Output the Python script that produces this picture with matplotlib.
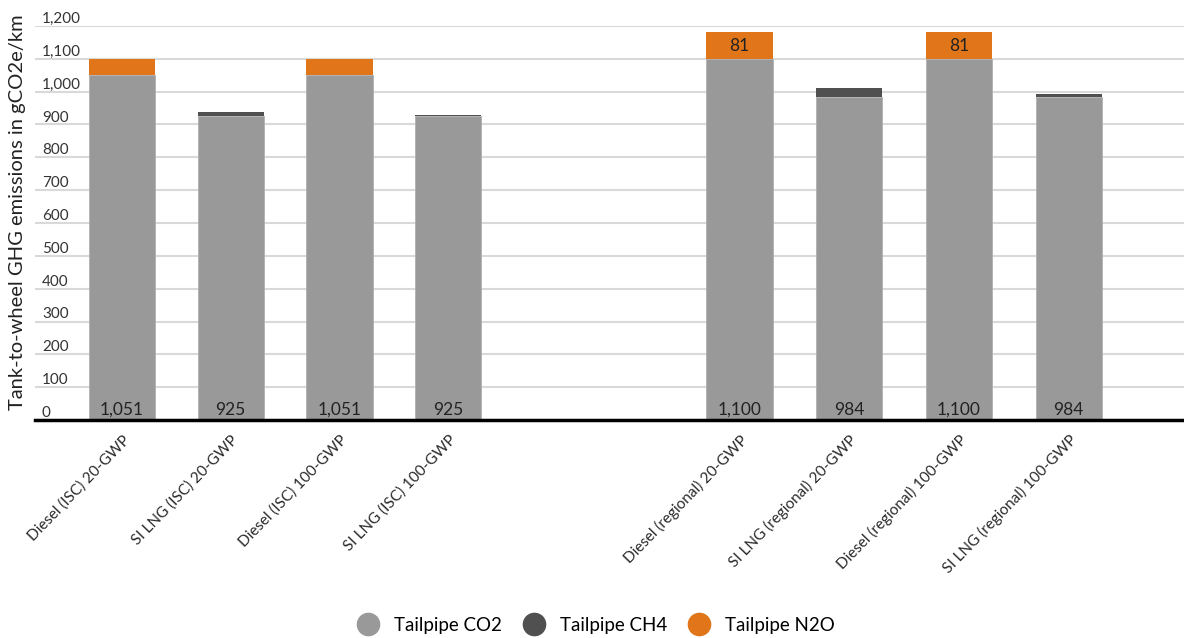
import matplotlib
matplotlib.use("Agg")
import matplotlib.pyplot as plt
from matplotlib.lines import Line2D
import numpy as np

plt.rcParams['font.family'] = ['Lato', 'DejaVu Sans']

categories = ["Diesel (ISC) 20-GWP", "SI LNG (ISC) 20-GWP", "Diesel (ISC) 100-GWP", "SI LNG (ISC) 100-GWP",
              "Diesel (regional) 20-GWP", "SI LNG (regional) 20-GWP", "Diesel (regional) 100-GWP",
              "SI LNG (regional) 100-GWP"]
co2 = [1051, 925, 1051, 925, 1100, 984, 1100, 984]
ch4 = [0, 14, 0, 5, 0, 26, 0, 8]
n2o = [47, 0, 47, 0, 81, 2, 81, 2]
series_names = ["Tailpipe CO2", "Tailpipe CH4", "Tailpipe N2O"]
colors = ["#999999", "#505050", "#E07519"]
yticks = [0, 100, 200, 300, 400, 500, 600, 700, 800, 900, 1000, 1100, 1200]

fig = plt.figure(figsize=(11.84, 6.38), dpi=100)
ax = fig.add_axes([35/1184, 1-420/638, 1-35/1184, (420-26)/638])

x = np.array([0, 1, 2, 3, 5.68, 6.69, 7.70, 8.71])
w = 0.61
co2a, ch4a, n2oa = np.array(co2), np.array(ch4), np.array(n2o)
ax.bar(x, co2a, w, color=colors[0], edgecolor="#b0b0b0", linewidth=0.6, zorder=3)
ax.bar(x, ch4a, w, bottom=co2a, color=colors[1], linewidth=0, zorder=3)
ax.bar(x, n2oa, w, bottom=co2a + ch4a, color=colors[2], linewidth=0, zorder=3)

for xi, c in zip(x, co2):
    ax.text(xi, 6, f"{c:,}", ha="center", va="bottom", fontsize=12.5, color="#222222", zorder=4)
for xi, c, m, n in zip(x, co2, ch4, n2o):
    if n > 60:
        ax.text(xi, c + m + n / 2, f"{n:,}", ha="center", va="center", fontsize=12.5,
                color="#222222", zorder=4)

ax.set_ylim(0, 1200)
ax.set_xlim(-0.8, 9.77)
ax.set_yticks(yticks)
ax.set_yticklabels([f"{t:,}" for t in yticks])
for lab in ax.get_yticklabels():
    lab.set_horizontalalignment("left")
    lab.set_verticalalignment("bottom")
ax.tick_params(axis="y", length=0, pad=-5, labelsize=11, labelcolor="#333333")
ax.yaxis.grid(True, color="#d9d9d9", linewidth=1.5, zorder=0)
ax.set_axisbelow(True)
for s in ["top", "right", "left"]:
    ax.spines[s].set_visible(False)
ax.spines["bottom"].set_linewidth(2.5)
ax.spines["bottom"].set_color("black")
ax.spines["bottom"].set_zorder(5)

ax.set_xticks(x)
ax.set_xticklabels(categories, rotation=46, ha="right", rotation_mode="anchor",
                   fontsize=11, color="#2a2a2a")
ax.tick_params(axis="x", length=0, pad=9)

fig.text(18/1184, 1 - 212/638, "Tank-to-wheel GHG emissions in gCO2e/km", rotation=90,
         ha="center", va="center", fontsize=14.5, color="#222222")

handles = [Line2D([0], [0], marker="o", linestyle="", markersize=16, markerfacecolor=c,
                  markeredgecolor=c) for c in colors]
fig.legend(handles, series_names, loc="center", bbox_to_anchor=(0.5, 1 - 625/638), ncol=3,
           frameon=False, fontsize=13.5, handletextpad=0.4, columnspacing=0.7)

fig.savefig("out.png", dpi=100)
